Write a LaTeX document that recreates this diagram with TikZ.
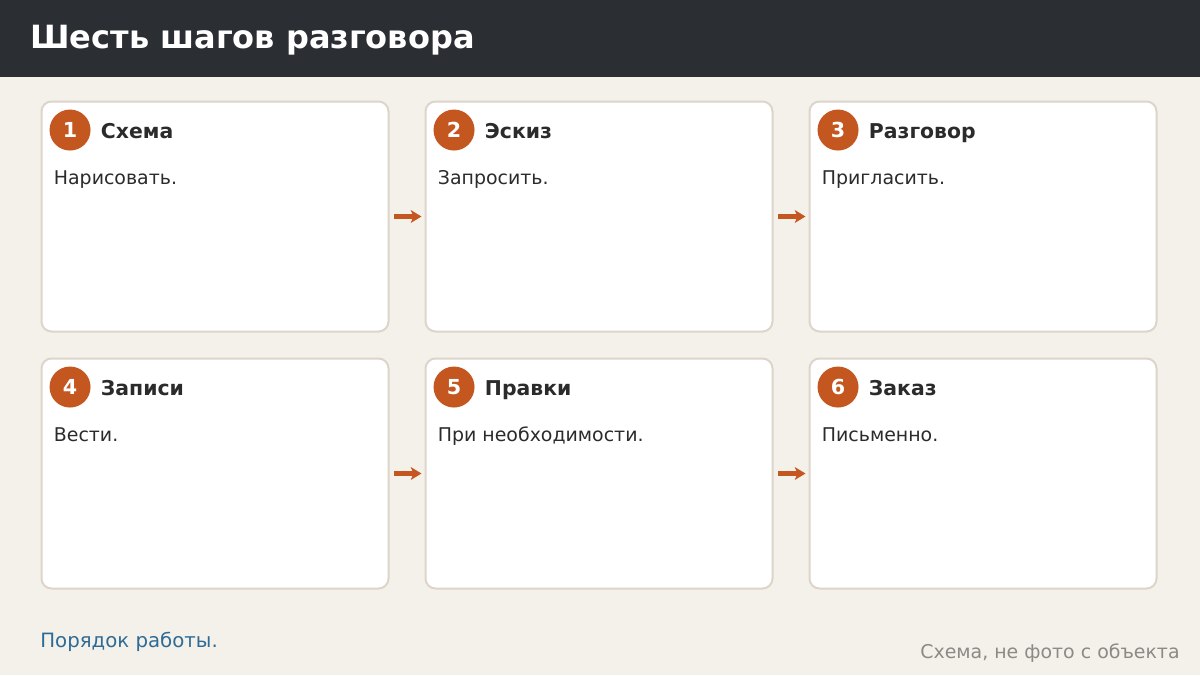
\documentclass[tikz,border=0pt]{standalone}
\usepackage{fontspec}
\setmainfont{DejaVu Sans}
\usetikzlibrary{positioning}
\usetikzlibrary{arrows.meta}
\definecolor{page}{HTML}{F4F1EA}
\definecolor{band}{HTML}{2B2E33}
\definecolor{rim}{HTML}{DDD5CB}
\definecolor{rust}{HTML}{C4561F}
\definecolor{ink}{HTML}{2B2B2B}
\definecolor{linkblue}{HTML}{2F6B94}
\definecolor{note}{HTML}{8C8A86}

\begin{document}
\begin{tikzpicture}[
            x = 0.75pt, y = -0.75pt, % one unit is one pixel
            > = {Stealth[length=8pt, width=9.5pt, inset=2pt]}, % arrow head style
            shorten > = 3pt, % stop short of the next card
            shorten < = 3.75pt,
            node distance = 20.25pt and 27.75pt, % gap between cards
            semithick % line style
        ]

        \tikzstyle{capline}=[text depth = 0pt, inner sep = 0pt]
        \tikzstyle{card}=[
            draw = rim,
            line width = 1.5pt,
            outer sep = 0pt,
            fill = white,
            rounded corners = 7.5pt,
            minimum width = 260.25pt,
            minimum height = 172.5pt
        ]
        \tikzstyle{badge}=[circle, capline, text height = 11.3pt, fill = rust, text = white,
            minimum size = 30.75pt, font = \bfseries\fontsize{15.5}{18}\selectfont]
        \tikzstyle{steptitle}=[capline, text height = 11.15pt, text = ink,
            font = \bfseries\fontsize{15.3}{18}\selectfont]
        \tikzstyle{stepbody}=[capline, text height = 10.35pt, anchor = west, text = ink,
            font = \fontsize{14.2}{17}\selectfont]
        \tikzstyle{flow}=[->, draw = rust, line width = 3.2pt]

        % page and header band
        \fill[page] (0,0) rectangle (1200,675);
        \useasboundingbox (0,0) rectangle (1200,675);
        \fill[band] (0,0) rectangle (1200,77);
        \node[capline, text height = 17.5pt, anchor = west, text = white,
            font = \bfseries\fontsize{24}{29}\selectfont]
            (title) at (30,36.5) {Шесть шагов разговора};

        % first row
        \node[card] (c1) at (215,216.5) {};
        \node[card] (c2) [right = of c1] {};
        \node[card] (c3) [right = of c2] {};

        % second row
        \node[card] (c4) [below = of c1] {};
        \node[card] (c5) [right = of c4] {};
        \node[card] (c6) [right = of c5] {};

        % badge, title and text of each card
        \foreach \i/\head/\text in {1/Схема/Нарисовать., 2/Эскиз/Запросить.,
                3/Разговор/Пригласить., 4/Записи/Вести.,
                5/Правки/При необходимости., 6/Заказ/Письменно.} {
            \node[badge] (b\i) at ([xshift = 21.4pt, yshift = -21.4pt]c\i.north west) {\i};
            \node[steptitle] (t\i) [right = 7.2pt of b\i, yshift = -0.75pt] {\head};
            \node[stepbody] (d\i) at ([xshift = 9pt, yshift = -57.4pt]c\i.north west) {\text};
        }

        % steps in order
        \path (c1) edge[flow] (c2);
        \path (c2) edge[flow] (c3);
        \path (c4) edge[flow] (c5);
        \path (c5) edge[flow] (c6);

        % footer
        \node[capline, text height = 10.8pt, anchor = west, text = linkblue,
            font = \fontsize{14.8}{18}\selectfont]
            (lead) at (40,640) {Порядок работы.};
        \node[capline, text height = 10.35pt, anchor = east, text = note,
            font = \fontsize{14.2}{17}\selectfont]
            (credit) at (1180,652) {Схема, не фото с объекта};

\end{tikzpicture}
\end{document}
